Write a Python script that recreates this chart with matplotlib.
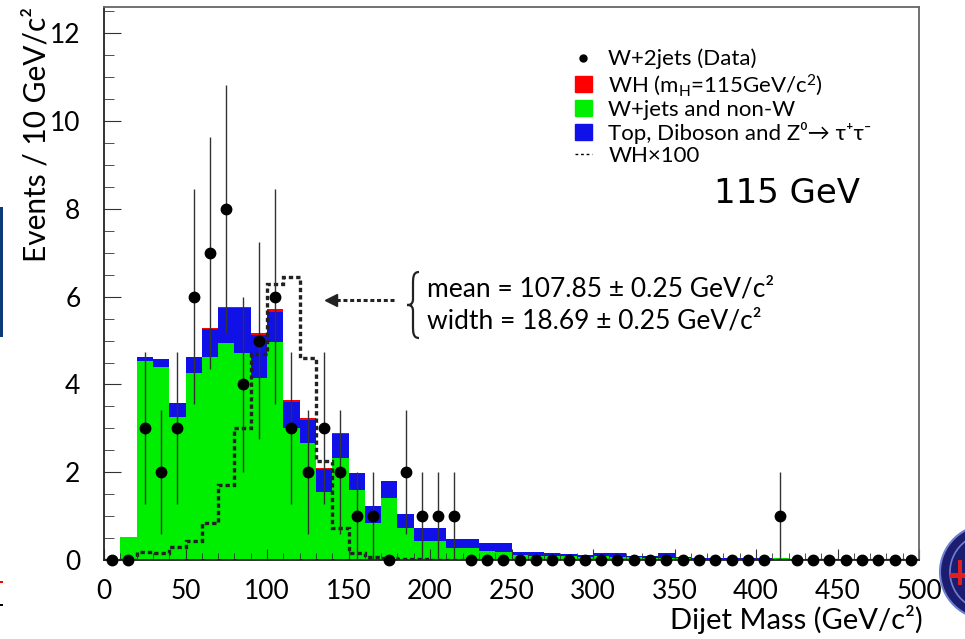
import numpy as np
import matplotlib
matplotlib.use('Agg')
import matplotlib.pyplot as plt
from matplotlib.lines import Line2D
from matplotlib.patches import Patch, Ellipse, Rectangle, PathPatch
from matplotlib.path import Path

plt.rcParams['font.family'] = ['Lato', 'DejaVu Sans']
plt.rcParams['mathtext.fontset'] = 'custom'
plt.rcParams['mathtext.rm'] = 'Lato'
plt.rcParams['mathtext.it'] = 'Lato:italic'

# DATA: 10 GeV bins from 0 to 500
bin_edges = np.arange(0, 510, 10)
bin_centers = np.arange(5, 500, 10)

# W+jets and non-W (green)
wjets = [0.0, 0.52, 4.54, 4.39, 3.25, 4.25, 4.63, 4.95, 4.71, 4.14,
         4.97, 3.00, 2.66, 1.54, 2.33, 1.59, 0.84, 1.41, 0.73, 0.44,
         0.44, 0.28, 0.27, 0.21, 0.19, 0.11, 0.10, 0.09, 0.08, 0.07,
         0.08, 0.07, 0.06, 0.05, 0.05, 0.04, 0.03, 0.03, 0.02, 0.02,
         0.02, 0.04, 0.02, 0.02, 0.01, 0.01, 0.01, 0.01, 0.01, 0.01]
# Top, Diboson and Z0->tautau (blue)
top_diboson = [0.0, 0.0, 0.08, 0.18, 0.32, 0.38, 0.64, 0.80, 1.03, 0.99,
               0.68, 0.59, 0.52, 0.54, 0.55, 0.39, 0.40, 0.40, 0.32, 0.28,
               0.28, 0.19, 0.20, 0.18, 0.20, 0.08, 0.08, 0.06, 0.05, 0.05,
               0.08, 0.08, 0.04, 0.05, 0.10, 0.03, 0.02, 0.02, 0.02, 0.02,
               0.02, 0.01, 0.01, 0.01, 0.01, 0.01, 0.01, 0.01, 0.0, 0.0]
# WH signal, m_H = 115 GeV/c2 (red)
wh_signal = [0.0, 0.0, 0.0019, 0.0015, 0.0030, 0.0044, 0.0084, 0.0170, 0.0300, 0.0470,
             0.0630, 0.0645, 0.0460, 0.0225, 0.0072, 0.0015, 0.0006, 0.0004, 0.0003, 0.0002,
             0.0001, 0.0001, 0.0001, 0.0001, 0.0001, 0.0, 0.0, 0.0, 0.0, 0.0,
             0.0, 0.0, 0.0, 0.0, 0.0, 0.0, 0.0, 0.0, 0.0, 0.0,
             0.0, 0.0, 0.0, 0.0, 0.0, 0.0, 0.0, 0.0, 0.0, 0.0]
# W+2jets data
data_counts = [0, 0, 3, 2, 3, 6, 7, 8, 4, 5,
               6, 3, 2, 3, 2, 1, 1, 0, 2, 1,
               1, 1, 0, 0, 0, 0, 0, 0, 0, 0,
               0, 0, 0, 0, 0, 0, 0, 0, 0, 0,
               0, 1, 0, 0, 0, 0, 0, 0, 0, 0]

wjets = np.array(wjets)
top_diboson = np.array(top_diboson)
wh_signal = np.array(wh_signal)
data_counts = np.array(data_counts)

fig = plt.figure(figsize=(9.65, 6.39), dpi=100)
W, H = 965, 639
ax = fig.add_axes([104 / W, 1 - 560 / H, (919 - 104) / W, (560 - 7) / H])

green = '#00ee00'
blue = '#1010e8'
red = '#ff0000'

ax.bar(bin_edges[:-1], wjets, width=10, align='edge', color=green, linewidth=0)
ax.bar(bin_edges[:-1], top_diboson, width=10, align='edge', bottom=wjets, color=blue, linewidth=0)
ax.bar(bin_edges[:-1], wh_signal, width=10, align='edge', bottom=wjets + top_diboson,
       color=red, linewidth=0)

# WH x 100 dashed
ax.stairs(wh_signal * 100, bin_edges, color='#222222', linestyle=(0, (1.3, 0.9)), linewidth=2.4)

# data with sqrt(N) errors
ax.errorbar(bin_centers, data_counts, yerr=np.sqrt(data_counts), fmt='o', color='black',
            markersize=7.5, elinewidth=1.0, ecolor='#333333', capsize=0, clip_on=False, zorder=5)

ax.set_xlim(0, 500)
ax.set_ylim(0, 12.6)
ax.set_xticks(np.arange(0, 501, 50))
ax.set_xticks(np.arange(0, 501, 10), minor=True)
ax.set_yticks(np.arange(0, 13, 2))
ax.set_yticks(np.arange(0, 12.6, 0.5), minor=True)
ax.tick_params(axis='both', which='both', direction='in', top=False, right=False,
               labelsize=19, color='#333333')
ax.tick_params(axis='y', which='major', length=12, pad=17)
ax.tick_params(axis='y', which='minor', length=7)
ax.tick_params(axis='x', which='major', length=8, pad=14)
ax.tick_params(axis='x', which='minor', length=5)
for s in ['top', 'right']:
    ax.spines[s].set_color('#666666')
    ax.spines[s].set_linewidth(1.3)
for s in ['left', 'bottom']:
    ax.spines[s].set_color('#222222')
    ax.spines[s].set_linewidth(1.3)

ax.set_xlabel('Dijet Mass (GeV/c\u00b2)', fontsize=21, ha='right', va='center')
ax.xaxis.set_label_coords(1.005, -0.108)
ax.set_ylabel('Events / 10 GeV/c\u00b2', fontsize=21.5, ha='right', va='center')
ax.yaxis.set_label_coords(-0.0825, 1.0)

# legend
handles = [
    Line2D([], [], marker='o', color='black', linestyle='none', markersize=5),
    Patch(color=red),
    Patch(color=green),
    Patch(color=blue),
    Line2D([], [], color='black', linestyle=(0, (2, 2)), linewidth=1),
]
labels = [
    'W+2jets (Data)',
    'WH (m$_{\\mathrm{H}}$=115GeV/c$^2$)',
    'W+jets and non-W',
    'Top, Diboson and Z\u2070\u2192 \u03c4\u207a\u03c4\u207b',
    'WH\u00d7100',
]
fig.legend(handles, labels, loc='upper left', bbox_to_anchor=(566 / W, 1 - 40 / H),
           frameon=False, fontsize=16, handlelength=0.75, handleheight=0.7,
           handletextpad=0.75, labelspacing=0.1, borderaxespad=0)

fig.text(714 / W, 1 - 194 / H, '115 GeV', fontsize=24.5, family='DejaVu Sans',
         va='center', ha='left')

# fit annotation
ax.plot([178, 141], [5.92, 5.92], color='#222222', linestyle=(0, (1.3, 0.9)), linewidth=2.2)
ax.plot([139], [5.92], marker='<', color='#222222', markersize=8)

# curly brace drawn in pixel coordinates
bx, top_y, bot_y, mid_y = 419, 272, 338, 305
brace_px = [(bx, top_y), (bx - 6, top_y), (bx - 6, top_y + 6), (bx - 6, top_y + 12),
            (bx - 6, mid_y - 6),
            (bx - 6, mid_y), (bx - 10, mid_y), (bx - 12, mid_y),
            (bx - 10, mid_y), (bx - 6, mid_y), (bx - 6, mid_y + 6),
            (bx - 6, bot_y - 12),
            (bx - 6, bot_y - 6), (bx - 6, bot_y), (bx, bot_y)]
codes = [Path.MOVETO, Path.CURVE4, Path.CURVE4, Path.CURVE4, Path.LINETO,
         Path.CURVE4, Path.CURVE4, Path.CURVE4, Path.CURVE4, Path.CURVE4, Path.CURVE4,
         Path.LINETO, Path.CURVE4, Path.CURVE4, Path.CURVE4]
brace_fig = [(x / W, 1 - y / H) for x, y in brace_px]
fig.add_artist(PathPatch(Path(brace_fig, codes), transform=fig.transFigure,
                         facecolor='none', edgecolor='#222222', linewidth=1.6))
fig.text(427 / W, 1 - 289 / H, 'mean = 107.85 \u00b1 0.25 GeV/c\u00b2', fontsize=19, va='center')
fig.text(427 / W, 1 - 321 / H, 'width = 18.69 \u00b1 0.25 GeV/c\u00b2', fontsize=19, va='center')

# slide leftovers: blue bar, small marks and logo
fig.add_artist(Rectangle((0, 1 - 337 / H), 3 / W, 130 / H, transform=fig.transFigure,
                         color='#0c3c78', linewidth=0))
fig.add_artist(Rectangle((0, 1 - 583 / H), 3 / W, 2 / H, transform=fig.transFigure,
                         color='red', linewidth=0))
fig.add_artist(Rectangle((0, 1 - 606 / H), 3 / W, 2 / H, transform=fig.transFigure,
                         color='black', linewidth=0))
fig.add_artist(Ellipse((990 / W, 1 - 572 / H), 100 / W, 96 / H, transform=fig.transFigure,
                       facecolor='#1c1c70', edgecolor='#7080d0', linewidth=1.5))
fig.add_artist(Ellipse((990 / W, 1 - 572 / H), 80 / W, 78 / H, transform=fig.transFigure,
                       facecolor='none', edgecolor='#7080d0', linewidth=1.2))
fig.add_artist(Rectangle((950 / W, 1 - 578 / H), 15 / W, 5 / H, transform=fig.transFigure,
                         color='#e02020', linewidth=0))
fig.add_artist(Rectangle((958 / W, 1 - 585 / H), 4 / W, 25 / H, transform=fig.transFigure,
                         color='#e02020', linewidth=0))

fig.savefig('out.png', dpi=100)
